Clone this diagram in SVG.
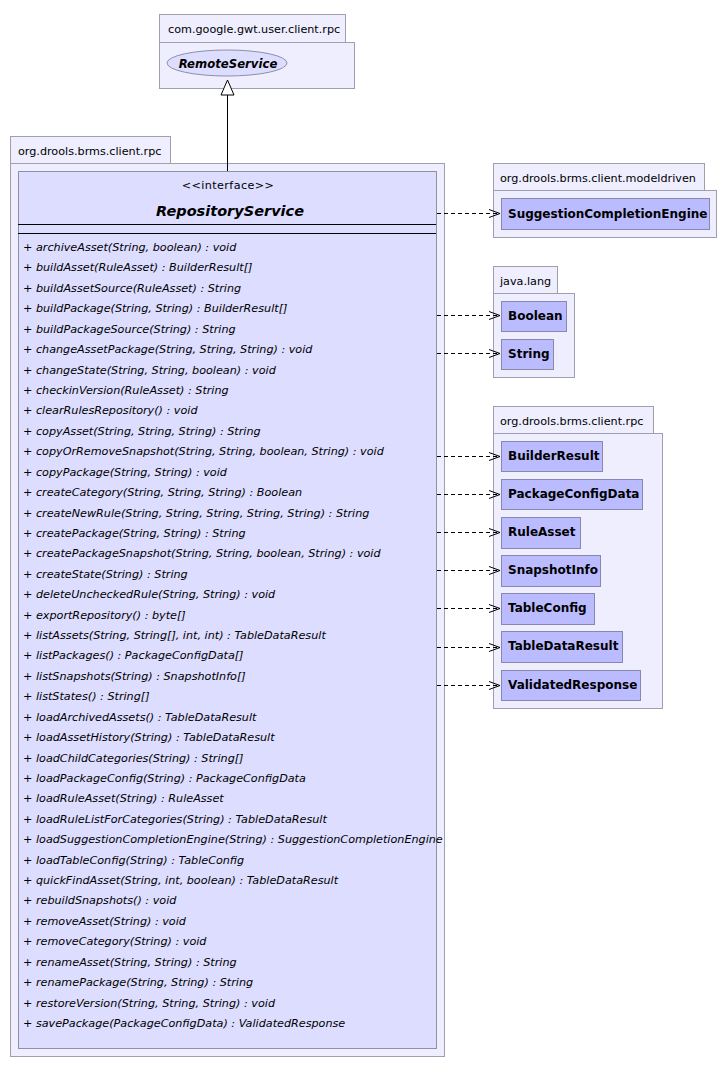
<svg xmlns="http://www.w3.org/2000/svg" width="727" height="1073" viewBox="0 0 727 1073">
<defs>
<style>
.pkg{fill:#eeeeff;stroke:#9f9fb0;stroke-width:1}
.cls{fill:#ddddff;stroke:#8f8fa8;stroke-width:1}
.ref{fill:#bbbbff;stroke:#8888aa;stroke-width:1}
.pt{font-family:"DejaVu Sans",sans-serif;font-size:11.2px;fill:#000}
.m{font-family:"DejaVu Sans",sans-serif;font-size:11.2px;font-style:italic;fill:#000}
.rn{font-family:"DejaVu Sans",sans-serif;font-size:12px;font-weight:bold;fill:#000}
.dep{stroke:#000;stroke-width:1;stroke-dasharray:4,3;fill:none}
</style>
<marker id="open" markerWidth="12" markerHeight="10" refX="11" refY="5" orient="auto" markerUnits="userSpaceOnUse">
<path d="M0,1 L11,5 L0,9" fill="none" stroke="#000" stroke-width="1"/>
</marker>
</defs>
<rect width="727" height="1073" fill="#fff"/>

<g id="pkg-gwt">
<rect class="pkg" x="159.5" y="14.5" width="186" height="28"/>
<rect class="pkg" x="159.5" y="42.5" width="195" height="46"/>
<text class="pt" x="168" y="33">com.google.gwt.user.client.rpc</text>
<g id="RemoteService">
<ellipse cx="227" cy="63" rx="60" ry="13" fill="#ddddff" stroke="#8f8fa8"/>
<text x="228" y="67.5" text-anchor="middle" font-family="DejaVu Sans,sans-serif" font-size="11.7" font-weight="bold" font-style="italic">RemoteService</text>
</g>
</g>

<g id="pkg-rpc-left">
<rect class="pkg" x="10.5" y="136.5" width="160" height="27"/>
<rect class="pkg" x="10.5" y="163.5" width="434" height="893"/>
<text class="pt" x="18" y="155">org.drools.brms.client.rpc</text>
</g>

<g id="RepositoryService">
<rect class="cls" x="18.5" y="171.5" width="418" height="877"/>
<text class="pt" x="228" y="189" text-anchor="middle" letter-spacing="0.4">&lt;&lt;interface&gt;&gt;</text>
<text x="230" y="216" text-anchor="middle" font-family="DejaVu Sans,sans-serif" font-size="14.5" font-weight="bold" font-style="italic">RepositoryService</text>
<line x1="18" y1="224.5" x2="436" y2="224.5" stroke="#000"/>
<line x1="18" y1="233.5" x2="436" y2="233.5" stroke="#000"/>
<g class="m">
<text x="23" y="251">+ archiveAsset(String, boolean) : void</text>
<text x="23" y="271.4">+ buildAsset(RuleAsset) : BuilderResult[]</text>
<text x="23" y="291.8">+ buildAssetSource(RuleAsset) : String</text>
<text x="23" y="312.3">+ buildPackage(String, String) : BuilderResult[]</text>
<text x="23" y="332.7">+ buildPackageSource(String) : String</text>
<text x="23" y="353.1">+ changeAssetPackage(String, String, String) : void</text>
<text x="23" y="373.5">+ changeState(String, String, boolean) : void</text>
<text x="23" y="393.9">+ checkinVersion(RuleAsset) : String</text>
<text x="23" y="414.4">+ clearRulesRepository() : void</text>
<text x="23" y="434.8">+ copyAsset(String, String, String) : String</text>
<text x="23" y="455.2">+ copyOrRemoveSnapshot(String, String, boolean, String) : void</text>
<text x="23" y="475.6">+ copyPackage(String, String) : void</text>
<text x="23" y="496">+ createCategory(String, String, String) : Boolean</text>
<text x="23" y="516.5">+ createNewRule(String, String, String, String, String) : String</text>
<text x="23" y="536.9">+ createPackage(String, String) : String</text>
<text x="23" y="557.3">+ createPackageSnapshot(String, String, boolean, String) : void</text>
<text x="23" y="577.7">+ createState(String) : String</text>
<text x="23" y="598.1">+ deleteUncheckedRule(String, String) : void</text>
<text x="23" y="618.6">+ exportRepository() : byte[]</text>
<text x="23" y="639">+ listAssets(String, String[], int, int) : TableDataResult</text>
<text x="23" y="659.4">+ listPackages() : PackageConfigData[]</text>
<text x="23" y="679.8">+ listSnapshots(String) : SnapshotInfo[]</text>
<text x="23" y="700.2">+ listStates() : String[]</text>
<text x="23" y="720.7">+ loadArchivedAssets() : TableDataResult</text>
<text x="23" y="741.1">+ loadAssetHistory(String) : TableDataResult</text>
<text x="23" y="761.5">+ loadChildCategories(String) : String[]</text>
<text x="23" y="781.9">+ loadPackageConfig(String) : PackageConfigData</text>
<text x="23" y="802.3">+ loadRuleAsset(String) : RuleAsset</text>
<text x="23" y="822.8">+ loadRuleListForCategories(String) : TableDataResult</text>
<text x="23" y="843.2">+ loadSuggestionCompletionEngine(String) : SuggestionCompletionEngine</text>
<text x="23" y="863.6">+ loadTableConfig(String) : TableConfig</text>
<text x="23" y="884">+ quickFindAsset(String, int, boolean) : TableDataResult</text>
<text x="23" y="904.4">+ rebuildSnapshots() : void</text>
<text x="23" y="924.9">+ removeAsset(String) : void</text>
<text x="23" y="945.3">+ removeCategory(String) : void</text>
<text x="23" y="965.7">+ renameAsset(String, String) : String</text>
<text x="23" y="986.1">+ renamePackage(String, String) : String</text>
<text x="23" y="1006.5">+ restoreVersion(String, String, String) : void</text>
<text x="23" y="1027">+ savePackage(PackageConfigData) : ValidatedResponse</text>
</g>
</g>

<g id="pkg-modeldriven">
<rect class="pkg" x="493.5" y="163.5" width="211" height="27"/>
<rect class="pkg" x="493.5" y="190.5" width="223" height="47"/>
<text class="pt" x="500" y="182">org.drools.brms.client.modeldriven</text>
<g id="SuggestionCompletionEngine">
<rect class="ref" x="501.5" y="198.5" width="208" height="31"/>
<text class="rn" x="508" y="218">SuggestionCompletionEngine</text>
</g>
</g>

<g id="pkg-java-lang">
<rect class="pkg" x="493.5" y="266.5" width="64" height="27"/>
<rect class="pkg" x="493.5" y="293.5" width="81" height="84"/>
<text class="pt" x="500" y="285">java.lang</text>
<g id="Boolean">
<rect class="ref" x="501.5" y="301.5" width="65" height="30"/>
<text class="rn" x="508" y="320">Boolean</text>
</g>
<g id="String">
<rect class="ref" x="501.5" y="339.5" width="52" height="30"/>
<text class="rn" x="508" y="358">String</text>
</g>
</g>

<g id="pkg-rpc-right">
<rect class="pkg" x="493.5" y="406.5" width="160" height="27"/>
<rect class="pkg" x="493.5" y="433.5" width="169" height="275"/>
<text class="pt" x="500" y="425">org.drools.brms.client.rpc</text>
<g id="BuilderResult">
<rect class="ref" x="501.5" y="441.5" width="101" height="30"/>
<text class="rn" x="508" y="460">BuilderResult</text>
</g>
<g id="PackageConfigData">
<rect class="ref" x="501.5" y="479.5" width="141" height="30"/>
<text class="rn" x="508" y="498">PackageConfigData</text>
</g>
<g id="RuleAsset">
<rect class="ref" x="501.5" y="517.5" width="79" height="31"/>
<text class="rn" x="508" y="536">RuleAsset</text>
</g>
<g id="SnapshotInfo">
<rect class="ref" x="501.5" y="555.5" width="99" height="31"/>
<text class="rn" x="508" y="574">SnapshotInfo</text>
</g>
<g id="TableConfig">
<rect class="ref" x="501.5" y="593.5" width="93" height="31"/>
<text class="rn" x="508" y="612">TableConfig</text>
</g>
<g id="TableDataResult">
<rect class="ref" x="501.5" y="631.5" width="121" height="31"/>
<text class="rn" x="508" y="650">TableDataResult</text>
</g>
<g id="ValidatedResponse">
<rect class="ref" x="501.5" y="670.5" width="139" height="30"/>
<text class="rn" x="508" y="689">ValidatedResponse</text>
</g>
</g>

<g id="connectors">
<line x1="227.5" y1="171" x2="227.5" y2="95" stroke="#000"/>
<path d="M227.5,80 L221,95 L234,95 Z" fill="#fff" stroke="#000"/>
<line class="dep" x1="437" y1="213.5" x2="500" y2="213.5" marker-end="url(#open)"/>
<line class="dep" x1="437" y1="315.5" x2="500" y2="315.5" marker-end="url(#open)"/>
<line class="dep" x1="437" y1="353.5" x2="500" y2="353.5" marker-end="url(#open)"/>
<line class="dep" x1="437" y1="456.5" x2="500" y2="456.5" marker-end="url(#open)"/>
<line class="dep" x1="437" y1="494.5" x2="500" y2="494.5" marker-end="url(#open)"/>
<line class="dep" x1="437" y1="532.5" x2="500" y2="532.5" marker-end="url(#open)"/>
<line class="dep" x1="437" y1="570.5" x2="500" y2="570.5" marker-end="url(#open)"/>
<line class="dep" x1="437" y1="608.5" x2="500" y2="608.5" marker-end="url(#open)"/>
<line class="dep" x1="437" y1="647.5" x2="500" y2="647.5" marker-end="url(#open)"/>
<line class="dep" x1="437" y1="685.5" x2="500" y2="685.5" marker-end="url(#open)"/>
</g>
</svg>
